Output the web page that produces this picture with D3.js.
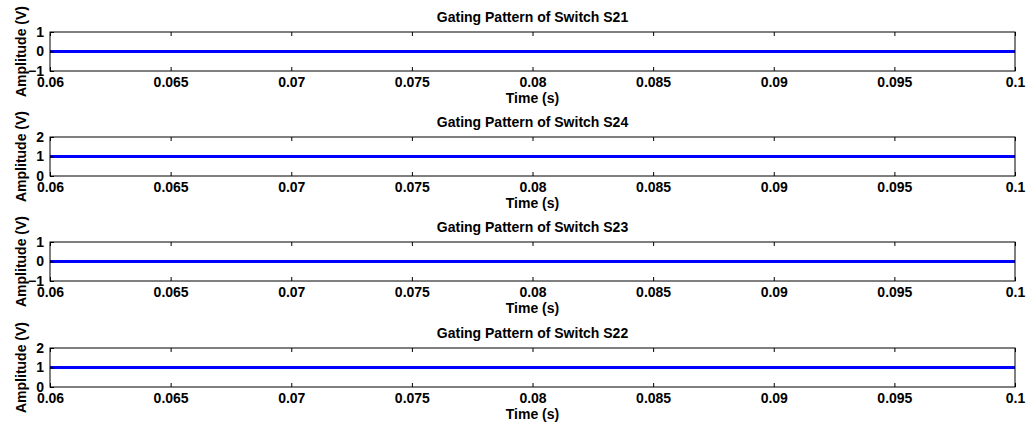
<!DOCTYPE html>
<html><head><meta charset="utf-8">
<script src="https://cdn.jsdelivr.net/npm/d3@7/dist/d3.min.js"></script>
<style>
html,body{margin:0;padding:0;background:#fff;}
svg text{font-family:"Liberation Sans",Arial,Helvetica,sans-serif;font-weight:bold;fill:#000;}
</style></head>
<body>
<svg id="chart" width="1029" height="426"></svg>
<script>
// Data
const titles = ["Gating Pattern of Switch S21","Gating Pattern of Switch S24","Gating Pattern of Switch S23","Gating Pattern of Switch S22"];
const timeDomain = [0.06, 0.1];
const xTicks = [0.06,0.065,0.07,0.075,0.08,0.085,0.09,0.095,0.1];
const xTickLabels = ["0.06","0.065","0.07","0.075","0.08","0.085","0.09","0.095","0.1"];
const times = [0.06, 0.1];
const s21 = [0, 0];
const s24 = [1, 1];
const s23 = [0, 0];
const s22 = [1, 1];
const yDomains = [[-1,1],[0,2],[-1,1],[0,2]];
const yTicksList = [[-1,0,1],[0,1,2],[-1,0,1],[0,1,2]];
const seriesList = [s21, s24, s23, s22];

const svg = d3.select("#chart");
const left = 50, right = 1015, h = 39;
const tops = [32, 137, 242, 348];
const fs = 14;

const x = d3.scaleLinear().domain(timeDomain).range([left, right]);

seriesList.forEach((vals, i) => {
  const top = tops[i];
  const y = d3.scaleLinear().domain(yDomains[i]).range([top + h, top]);
  const g = svg.append("g");

  const cid = "clip" + i;
  svg.append("clipPath").attr("id", cid).append("rect")
    .attr("x", left).attr("y", top).attr("width", right - left).attr("height", h);

  const line = d3.line().x((d, j) => x(times[j])).y(d => y(d));
  g.append("path").datum(vals)
    .attr("clip-path", `url(#${cid})`)
    .attr("d", line)
    .attr("fill", "none").attr("stroke", "#0000ff").attr("stroke-width", 3);

  const xb = d3.axisBottom(x).tickValues(xTicks).tickFormat((d, j) => xTickLabels[j]).tickSizeInner(-4).tickSizeOuter(0).tickPadding(6);
  const gx = g.append("g").attr("transform", `translate(0,${top + h})`).call(xb);
  gx.select(".domain").remove();
  gx.selectAll("line").attr("stroke", "#000");
  gx.selectAll("text").attr("font-size", fs).attr("dy", "0.71em");

  const xt = d3.axisTop(x).tickValues(xTicks).tickFormat("").tickSizeInner(-4).tickSizeOuter(0);
  const gxt = g.append("g").attr("transform", `translate(0,${top})`).call(xt);
  gxt.select(".domain").remove();
  gxt.selectAll("line").attr("stroke", "#000");

  const yl = d3.axisLeft(y).tickValues(yTicksList[i]).tickFormat(d3.format("d")).tickSizeInner(-4).tickSizeOuter(0).tickPadding(6);
  const gy = g.append("g").attr("transform", `translate(${left},0)`).call(yl);
  gy.select(".domain").remove();
  gy.selectAll("line").attr("stroke", "#000");
  gy.selectAll("text").attr("font-size", fs);

  g.append("rect").attr("x", left).attr("y", top).attr("width", right - left).attr("height", h)
    .attr("fill", "none").attr("stroke", "#000").attr("stroke-width", 1);

  g.append("text").attr("x", (left + right) / 2).attr("y", top - 10)
    .attr("text-anchor", "middle").attr("font-size", fs).text(titles[i]);

  g.append("text").attr("x", (left + right) / 2).attr("y", top + h + 32)
    .attr("text-anchor", "middle").attr("font-size", fs).text("Time (s)");

  g.append("text").attr("transform", `translate(21,${top + h / 2}) rotate(-90)`)
    .attr("text-anchor", "middle").attr("dy", "0.35em").attr("font-size", fs).text("Amplitude (V)");
});
</script>
</body></html>
